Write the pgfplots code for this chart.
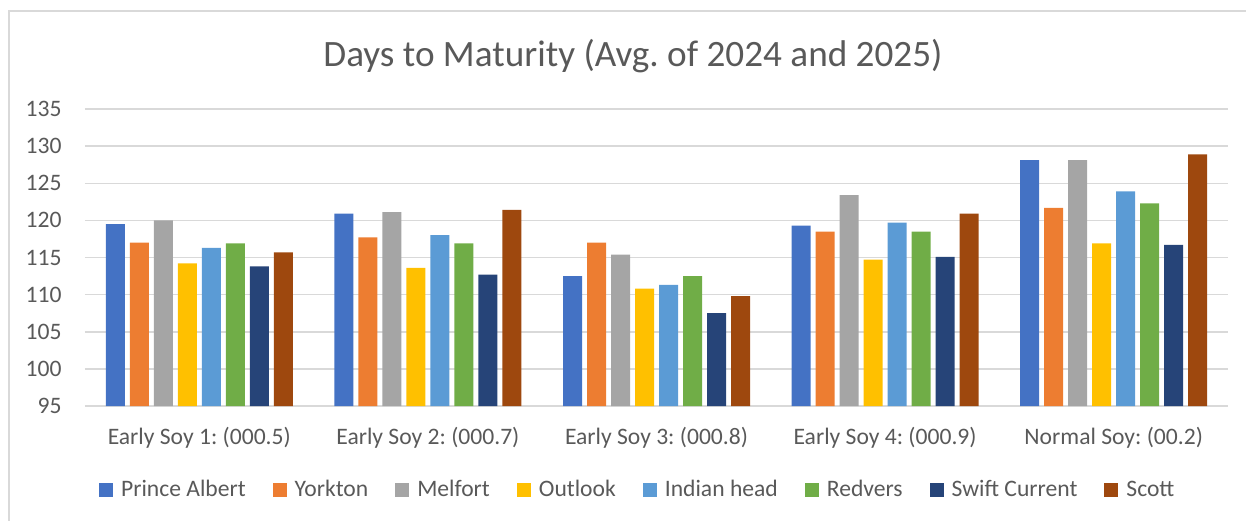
\documentclass[border=0pt]{standalone}
\usepackage{pgfplots}
\pgfplotsset{compat=1.18}
\usepackage{fontspec}
\setmainfont{Carlito}
\frenchspacing
\definecolor{txt}{HTML}{595959}
\definecolor{gridc}{HTML}{D9D9D9}
\definecolor{c1}{HTML}{4472C4}
\definecolor{c2}{HTML}{ED7D31}
\definecolor{c3}{HTML}{A5A5A5}
\definecolor{c4}{HTML}{FFC000}
\definecolor{c5}{HTML}{5B9BD5}
\definecolor{c6}{HTML}{70AD47}
\definecolor{c7}{HTML}{264478}
\definecolor{c8}{HTML}{9E480E}
\begin{document}
\begin{tikzpicture}
\path[use as bounding box] (0,0) rectangle (623pt,260pt);
\draw[gridc, line width=0.8pt] (4.5pt,-10pt) rectangle (640pt,254.5pt);
\begin{axis}[
  at={(42.5pt,57pt)}, anchor=south west,
  scale only axis, width=571.5pt, height=148.5pt,
  xmin=-0.5, xmax=4.5, ymin=95, ymax=135,
  ytick={95,100,...,135},
  xtick={0,1,2,3,4},
  xticklabels={Early Soy 1: (000.5),Early Soy 2: (000.7),Early Soy 3: (000.8),Early Soy 4: (000.9),Normal Soy: (00.2)},
  ymajorgrids, grid style={gridc, line width=0.75pt},
  axis line style={draw=none},
  major tick length=0pt, tick style={draw=none},
  /pgf/number format/assume math mode=true,
  ticklabel style={font=\fontsize{11.8}{14}\selectfont, text=txt},
  yticklabel style={anchor=east, inner sep=0pt, xshift=-11.5pt},
  xticklabel style={anchor=center, inner sep=0pt, yshift=-16pt},
  title={Days to Maturity (Avg. of 2024 and 2025)},
  title style={at={(0.4794,1.138)}, anchor=center, font=\fontsize{18.6}{22}\selectfont, text=txt},
  ybar, bar width=9.5pt,
  legend columns=8,
  legend style={at={(0.4845,-0.283)}, anchor=center, draw=none, fill=none,
    font=\fontsize{11.8}{14}\selectfont, text=txt,
    /tikz/every even column/.append style={column sep=11.5pt}},
  legend image code/.code={\fill[#1] (-2pt,-3.5pt) rectangle (5pt,3.5pt);},
]
\addplot[fill=c1, draw=none, bar shift=-42pt] coordinates {(0,119.5) (1,120.9) (2,112.5) (3,119.3) (4,128.1)};
\addplot[fill=c2, draw=none, bar shift=-30pt] coordinates {(0,117.0) (1,117.7) (2,117.0) (3,118.5) (4,121.7)};
\addplot[fill=c3, draw=none, bar shift=-18pt] coordinates {(0,120.0) (1,121.1) (2,115.4) (3,123.4) (4,128.1)};
\addplot[fill=c4, draw=none, bar shift=-6pt] coordinates {(0,114.2) (1,113.6) (2,110.8) (3,114.7) (4,116.9)};
\addplot[fill=c5, draw=none, bar shift=6pt] coordinates {(0,116.3) (1,118.0) (2,111.3) (3,119.7) (4,123.9)};
\addplot[fill=c6, draw=none, bar shift=18pt] coordinates {(0,116.9) (1,116.9) (2,112.5) (3,118.5) (4,122.3)};
\addplot[fill=c7, draw=none, bar shift=30pt] coordinates {(0,113.8) (1,112.7) (2,107.5) (3,115.1) (4,116.7)};
\addplot[fill=c8, draw=none, bar shift=42pt] coordinates {(0,115.7) (1,121.4) (2,109.8) (3,120.9) (4,128.9)};
\legend{\hspace{2pt}Prince Albert,\hspace{2pt}Yorkton,\hspace{2pt}Melfort,\hspace{2pt}Outlook,\hspace{2pt}Indian head,\hspace{2pt}Redvers,\hspace{2pt}Swift Current,\hspace{2pt}Scott}
\end{axis}
\end{tikzpicture}
\end{document}
